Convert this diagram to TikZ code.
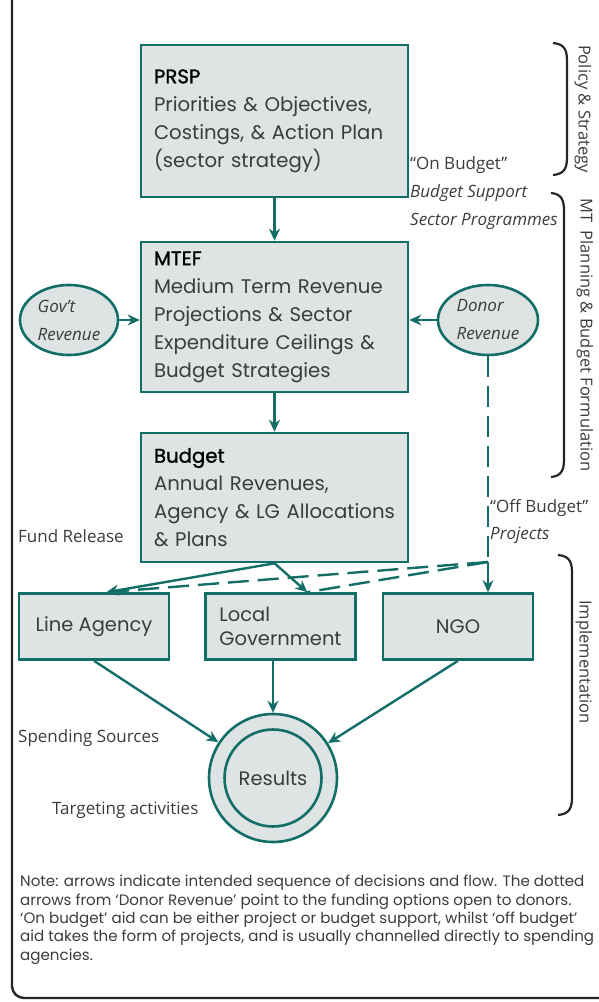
\documentclass[tikz,border=0pt]{standalone}
\usepackage{fontspec}
\setmainfont{Open Sans}
\newfontfamily\boxfont{Poppins}
\newfontfamily\headfont{Poppins}[FakeBold=1.2]
\usetikzlibrary{shapes.geometric, arrows.meta}
\definecolor{flowteal}{HTML}{126E66}
\definecolor{boxgrey}{HTML}{DEE3E3}
\definecolor{inkgrey}{HTML}{3C3C3C}

\begin{document}
\begin{tikzpicture}[x=1pt, y=-1pt,
  stage/.style={draw=flowteal, line width=2.6pt, fill=boxgrey, align=left, text width=241pt,
    inner xsep=13pt, minimum width=267pt, text=inkgrey, font=\boxfont\fontsize{19.7}{28}\selectfont},
  actor/.style={draw=flowteal, line width=2.6pt, fill=boxgrey, align=left, minimum width=150pt,
    minimum height=66pt, text=inkgrey, font=\boxfont\fontsize{19.5}{24}\selectfont},
  revenue/.style={ellipse, draw=flowteal, line width=2.6pt, fill=boxgrey, minimum width=98pt,
    minimum height=70pt, inner sep=0pt, align=left, text=inkgrey, font=\itshape\fontsize{17}{28}\selectfont},
  tag/.style={anchor=west, inner sep=0pt, text=inkgrey, font=\fontsize{17}{20}\selectfont},
  phase/.style={rotate=-90, inner sep=0pt, text=inkgrey, font=\fontsize{16.5}{20}\selectfont},
  flow/.style={->, >={Stealth[length=12pt, width=11pt]}, draw=flowteal, fill=flowteal, line width=2.4pt},
  offflow/.style={draw=flowteal, line width=2.4pt, dash pattern=on 21pt off 9pt},
  brace/.style={draw=black!85, line width=2.2pt},
]
\useasboundingbox (0,0) rectangle (599,1002);
\clip (0,0) rectangle (599,1002);

% outer frame
\draw[black!85, line width=2.4pt, rounded corners=12pt] (12,-10) -- (12,998) -- (640,998);

% planning stages
\node[stage, minimum height=152pt] (prsp) at (274.5,121)
  {{\headfont\color{black}PRSP}\\Priorities \& Objectives,\\Costings, \& Action Plan\\(sector strategy)};
\node[stage, minimum height=150pt] (mtef) at (274.5,317)
  {{\headfont\color{black}MTEF}\\Medium Term Revenue\\Projections \& Sector\\Expenditure Ceilings \&\\Budget Strategies};
\node[stage, minimum height=129pt] (budget) at (274.5,497.5)
  {{\headfont\color{black}Budget}\\Annual Revenues,\\Agency \& LG Allocations\\\& Plans};

\node[revenue] (gov) at (69,320) {Gov’t\\Revenue};
\node[revenue, minimum width=100pt] (donor) at (488,320) {Donor\\Revenue};

% spending agencies
\node[actor] (lineag) at (94,626.5) {Line Agency};
\node[actor, inner xsep=10pt] (locgov) at (280.5,626.5) {Local\\Government};
\node[actor] (ngo) at (458,626.5) {NGO};

\node[circle, draw=flowteal, line width=2.6pt, fill=boxgrey, minimum size=128pt] (ring) at (273,778) {};
\node[circle, draw=flowteal, line width=2.6pt, fill=boxgrey, minimum size=97pt, text=inkgrey,
  font=\boxfont\fontsize{19.5}{24}\selectfont] (results) at (273,778) {Results};

% labels
\node[tag] (onbud) at (410,165) {“On Budget”};
\node[tag, font=\itshape\fontsize{17}{20}\selectfont] (budsup) at (410,193) {Budget Support};
\node[tag, font=\itshape\fontsize{17}{20}\selectfont] (secprog) at (410,221) {Sector Programmes};
\node[tag] (offbud) at (490,508) {“Off Budget”};
\node[tag, font=\itshape\fontsize{17}{20}\selectfont] (projects) at (490,535) {Projects};
\node[tag] (fundrel) at (18,536) {Fund Release};
\node[tag] (spending) at (18,738) {Spending Sources};
\node[tag] (targeting) at (52,810) {Targeting activities};

\node[phase] (policy) at (583,109) {Policy \& Strategy};
\node[phase] (mtplan) at (585,335) {MT\enspace Planning \& Budget Formulation};
\node[phase] (impl) at (584,662) {Implementation};

\draw[brace] (553,43) .. controls (566,44) and (567,52) .. (567,62) -- (567,156)
  .. controls (567,166) and (566,174) .. (553,175);
\draw[brace] (551,193) .. controls (563,194) and (564,202) .. (564,212) -- (564,458)
  .. controls (564,468) and (563,476) .. (551,477);
\draw[brace] (558,555) .. controls (571,556) and (572,564) .. (572,574) -- (572,796)
  .. controls (572,806) and (571,814) .. (558,815);

\node[anchor=north west, inner sep=0pt, align=left, text=inkgrey,
  font=\boxfont\fontsize{15.1}{18.4}\selectfont] (note) at (20,875)
  {Note: arrows indicate intended sequence of decisions and flow. The dotted\\
   arrows from ‘Donor Revenue’ point to the funding options open to donors.\\
   ‘On budget’ aid can be either project or budget support, whilst ‘off budget’\\
   aid takes the form of projects, and is usually channelled directly to spending\\
   agencies.};

% connectors
\coordinate (split) at (488,562);
\draw[flow] (prsp) -- (mtef);
\draw[flow] (mtef) -- (budget);
\draw[flow] (gov.east) -- (gov.east -| mtef.west);
\draw[flow, offflow] (donor.west) -- (donor.west -| mtef.east);
\draw[offflow] (donor.south) -- (split);
\draw[offflow] (split) -- (lineag.70);
\draw[offflow] (split) -- (locgov.52);
\draw[flow] (budget.south) -- (lineag.70);
\draw[flow] (budget.south) -- (locgov.52);
\draw[flow] (split) -- (split |- ngo.north);
\draw[flow] (lineag.south) -- (ring);
\draw[flow] (ring |- locgov.south) -- (ring);
\draw[flow] (ngo.south) -- (ring);
\end{tikzpicture}
\end{document}
